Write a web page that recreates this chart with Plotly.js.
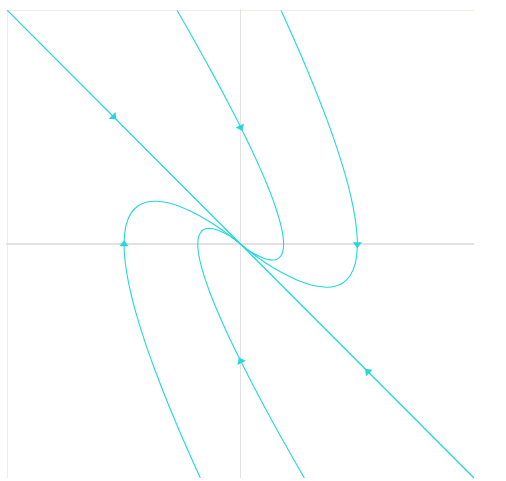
<!DOCTYPE html>
<html>
<head>
<meta charset="utf-8">
<script src="https://cdn.plot.ly/plotly-3.0.1.min.js"></script>
<style>html,body{margin:0;padding:0;background:#fff;}#chart{width:506px;height:481px;}</style>
</head>
<body>
<div id="chart"></div>
<script>
// Trajectories of the phase portrait
const curveA_x = [-0.2728,-0.2025,-0.1221,-0.0553,0,0.0452,0.0819,0.1111,0.1341,0.1516,0.1646,0.1738,0.1797,0.1830,0.1839,0.1807,0.1726,0.1615,0.1488,0.1353,0.1186,0.1026,0.0747,0.0529,0.0366,0.0168,0.0074,0.0013,0];
const curveA_y = [1.0003,0.8774,0.7328,0.6078,0.5,0.4072,0.3275,0.2593,0.2011,0.1516,0.1098,0.0745,0.0449,0.0203,0,-0.0301,-0.0493,-0.0606,-0.0661,-0.0677,-0.0659,-0.0616,-0.0498,-0.0378,-0.0275,-0.0135,-0.0062,-0.0012,0];

const curveB_x = [0.1729,0.2226,0.3021,0.3644,0.4122,0.4476,0.4725,0.4886,0.4973,0.5,0.4912,0.4692,0.4391,0.4044,0.3679,0.3223,0.2789,0.2389,0.2030,0.1437,0.0996,0.0679,0.0458,0.0202,0.0087,0.0015,0];
const curveB_y = [1.0,0.8902,0.7048,0.5466,0.4122,0.2984,0.2025,0.1221,0.0553,0,-0.0819,-0.1341,-0.1646,-0.1797,-0.1839,-0.1791,-0.1674,-0.1521,-0.1353,-0.1026,-0.0747,-0.0529,-0.0366,-0.0168,-0.0074,-0.0013,0];

const curveC_x = [-0.1729,-0.2226,-0.3021,-0.3644,-0.4122,-0.4476,-0.4725,-0.4886,-0.4973,-0.5,-0.4912,-0.4692,-0.4391,-0.4044,-0.3679,-0.3223,-0.2789,-0.2389,-0.2030,-0.1437,-0.0996,-0.0679,-0.0458,-0.0202,-0.0087,-0.0015,0];
const curveC_y = [-1.0,-0.8902,-0.7048,-0.5466,-0.4122,-0.2984,-0.2025,-0.1221,-0.0553,0,0.0819,0.1341,0.1646,0.1797,0.1839,0.1791,0.1674,0.1521,0.1353,0.1026,0.0747,0.0529,0.0366,0.0168,0.0074,0.0013,0];

const curveD_x = [0.2728,0.2025,0.1221,0.0553,0,-0.0452,-0.0819,-0.1111,-0.1341,-0.1516,-0.1646,-0.1738,-0.1797,-0.1830,-0.1839,-0.1807,-0.1726,-0.1615,-0.1488,-0.1353,-0.1186,-0.1026,-0.0747,-0.0529,-0.0366,-0.0168,-0.0074,-0.0013,0];
const curveD_y = [-1.0003,-0.8774,-0.7328,-0.6078,-0.5,-0.4072,-0.3275,-0.2593,-0.2011,-0.1516,-0.1098,-0.0745,-0.0449,-0.0203,0,0.0301,0.0493,0.0606,0.0661,0.0677,0.0659,0.0616,0.0498,0.0378,0.0275,0.0135,0.0062,0.0012,0];

const lineUL_x = [-1, 0];
const lineUL_y = [1, 0];
const lineLR_x = [1, 0];
const lineLR_y = [-1, 0];

// Direction arrows
const arrowX = [0, 0.5, -0.5, 0, -0.545, 0.545];
const arrowY = [0.5, 0, 0, -0.5, 0.545, -0.545];
const arrowAngle = [153.4, 180, 0, -26.6, 135, -45];

const COLOR = '#22d8d8';
const lineStyle = {color: COLOR, width: 1.1, shape: 'spline', smoothing: 1};

function curve(x, y) {
  return {x: x, y: y, type: 'scatter', mode: 'lines', line: lineStyle, hoverinfo: 'skip'};
}

const traces = [
  {x: lineUL_x, y: lineUL_y, type: 'scatter', mode: 'lines', line: {color: COLOR, width: 1.3}, hoverinfo: 'skip'},
  {x: lineLR_x, y: lineLR_y, type: 'scatter', mode: 'lines', line: {color: COLOR, width: 1.3}, hoverinfo: 'skip'},
  curve(curveA_x, curveA_y),
  curve(curveB_x, curveB_y),
  curve(curveC_x, curveC_y),
  curve(curveD_x, curveD_y),
  {x: arrowX, y: arrowY, type: 'scatter', mode: 'markers',
   marker: {symbol: 'triangle-up', size: 8, color: COLOR, angle: arrowAngle, line: {width: 0}},
   hoverinfo: 'skip'}
];

const layout = {
  width: 506, height: 481,
  margin: {l: 6, r: 32, t: 9, b: 3, pad: 0},
  paper_bgcolor: '#ffffff', plot_bgcolor: '#ffffff',
  showlegend: false,
  xaxis: {range: [-1.006, 1], tickvals: [-1, 0], showticklabels: false, ticks: '',
          showgrid: true, gridcolor: '#efede6', gridwidth: 1.5,
          zeroline: true, zerolinecolor: '#e2e2e2', zerolinewidth: 1.5,
          showline: false, fixedrange: true},
  yaxis: {range: [-1, 1.006], tickvals: [0, 1], showticklabels: false, ticks: '',
          showgrid: true, gridcolor: '#efede6', gridwidth: 1.5,
          zeroline: true, zerolinecolor: '#e2e2e2', zerolinewidth: 1.5,
          showline: false, fixedrange: true}
};

Plotly.newPlot('chart', traces, layout, {displayModeBar: false, staticPlot: true});
</script>
</body>
</html>
